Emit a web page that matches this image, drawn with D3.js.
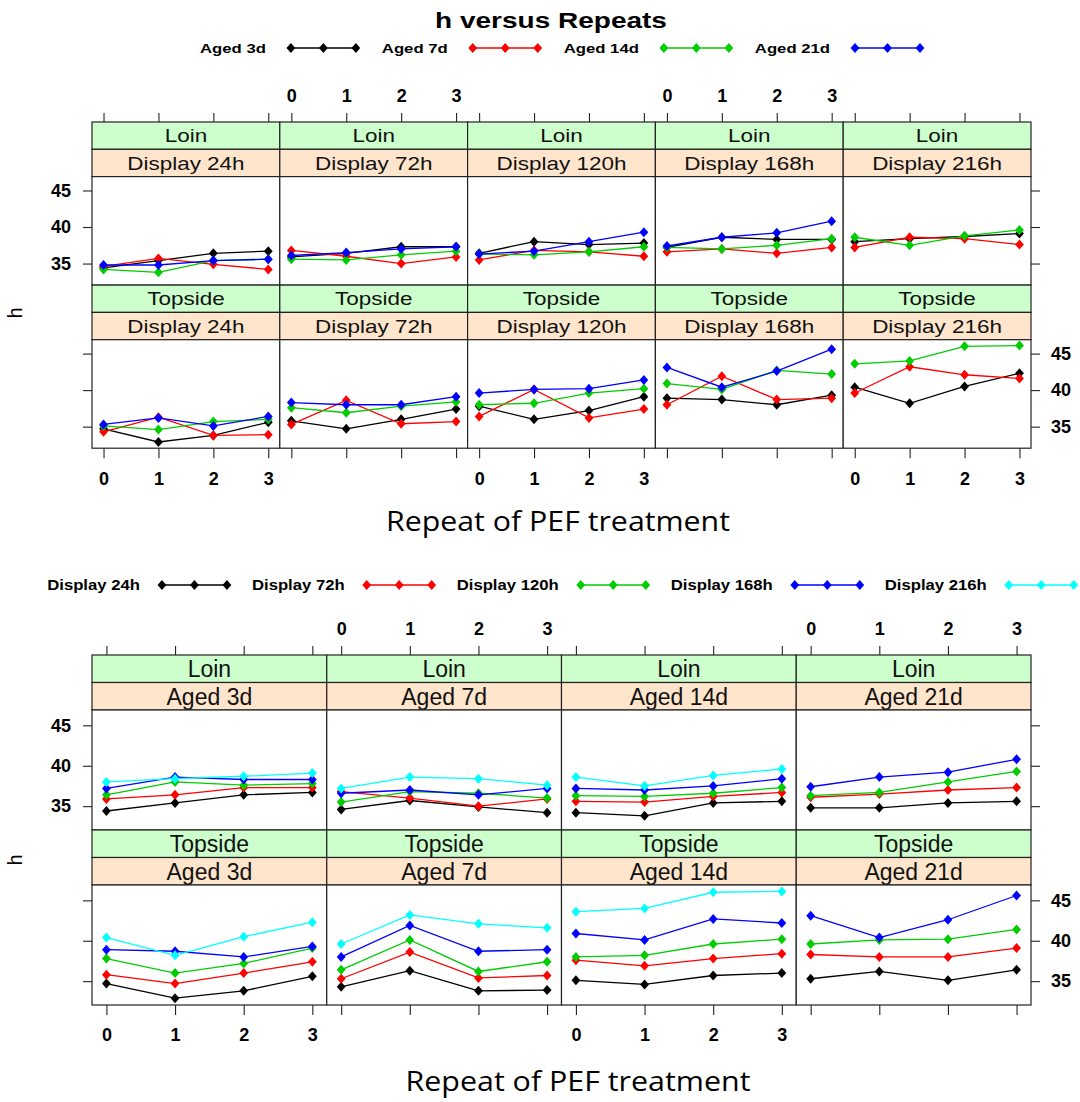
<!DOCTYPE html>
<html>
<head>
<meta charset="utf-8">
<script src="https://cdn.jsdelivr.net/npm/d3@7"></script>
<style>
  body { margin: 0; background: #fff; }
  svg { display: block; }
</style>
</head>
<body>
<svg id="chart" width="1080" height="1102"></svg>
<script>
// ---- data -------------------------------------------------------------
const repeats = [0, 1, 2, 3];
const muscles = ["Loin", "Topside"];
const agings = ["Aged 3d", "Aged 7d", "Aged 14d", "Aged 21d"];
const displays = ["Display 24h", "Display 72h", "Display 120h", "Display 168h", "Display 216h"];
const yTicks = [35, 40, 45];

// h per repeat; one row per display period (24h, 72h, 120h, 168h, 216h)
const loinAged3d = [
  [34.4, 35.4, 36.4, 36.7],
  [35.9, 36.4, 37.3, 37.3],
  [36.4, 38.0, 37.6, 37.8],
  [37.2, 38.6, 38.3, 38.3],
  [38.0, 38.4, 38.7, 39.1]
];
const loinAged7d = [
  [34.6, 35.7, 34.9, 34.2],
  [36.8, 36.0, 35.0, 35.9],
  [35.5, 36.8, 36.6, 36.0],
  [36.6, 37.0, 36.4, 37.2],
  [37.2, 38.6, 38.4, 37.6]
];
const loinAged14d = [
  [34.2, 33.8, 35.4, 35.6],
  [35.6, 35.5, 36.2, 36.7],
  [36.3, 36.2, 36.6, 37.3],
  [37.2, 37.0, 37.5, 38.4],
  [38.6, 37.5, 38.8, 39.6]
];
const loinAged21d = [
  [34.8, 34.8, 35.4, 35.6],
  [36.1, 36.5, 37.0, 37.3],
  [36.3, 36.7, 38.0, 39.3],
  [37.4, 38.6, 39.2, 40.8],
  null
];
const topsideAged3d = [
  [34.7, 32.9, 33.8, 35.6],
  [35.8, 34.7, 36.0, 37.4],
  [37.8, 36.0, 37.2, 39.1],
  [38.9, 38.7, 38.0, 39.3],
  [40.4, 38.2, 40.5, 42.3]
];
const topsideAged7d = [
  [34.3, 36.3, 33.8, 33.9],
  [35.3, 38.6, 35.4, 35.7],
  [36.4, 40.1, 36.2, 37.4],
  [38.0, 41.9, 38.7, 38.9],
  [39.6, 43.2, 42.1, 41.6]
];
const topsideAged14d = [
  [35.1, 34.6, 35.7, 36.0],
  [37.6, 36.9, 37.8, 38.4],
  [38.0, 38.2, 39.6, 40.2],
  [40.9, 40.1, 42.7, 42.2],
  [43.6, 44.0, 46.0, 46.1]
];
const topsideAged21d = [
  [35.3, 36.2, 35.1, 36.4],
  [38.3, 38.0, 38.0, 39.1],
  [39.6, 40.1, 40.2, 41.4],
  [43.1, 40.4, 42.6, 45.6],
  null
];

// series colours (R default palette)
const agingColors = ["#000000", "#ff0000", "#00cd00", "#0000ff"];
const displayColors = ["#000000", "#ff0000", "#00cd00", "#0000ff", "#00ffff"];

// ---- lookup -----------------------------------------------------------
const table = {
  "Loin": [loinAged3d, loinAged7d, loinAged14d, loinAged21d],
  "Topside": [topsideAged3d, topsideAged7d, topsideAged14d, topsideAged21d]
};
function valuesFor(muscle, aging, display) {
  return table[muscle][agings.indexOf(aging)][displays.indexOf(display)];
}

// ---- helpers ----------------------------------------------------------
const svg = d3.select("#chart");
const FONT = "'Liberation Sans', Arial, Helvetica, sans-serif";
const yDomain = [32.05, 46.9];

function label(parent, x, y, text, o = {}) {
  const t = parent.append("text")
    .attr("transform", `translate(${x},${y}) rotate(${o.rotate || 0}) scale(${o.sx || 1},${o.sy || 1})`)
    .attr("font-family", o.family || FONT)
    .attr("font-size", o.size || 16)
    .attr("font-weight", o.weight || "normal")
    .attr("text-anchor", o.anchor || "start")
    .attr("fill", o.fill || "#000")
    .text(text);
  if (o.length) t.attr("textLength", o.length).attr("lengthAdjust", "spacingAndGlyphs");
  return t;
}

function diamond(w, h) {
  return `M0,${-h}L${w},0L0,${h}L${-w},0Z`;
}
const MARK = diamond(4.4, 5);

function legend(o) {
  const g = svg.append("g");
  // measure the item texts first so the whole key can be centred
  const items = o.labels.map((lab, i) => {
    const t = label(g, 0, 0, lab, { size: o.size, weight: "bold", sy: o.sy });
    const w = t.node().getComputedTextLength();
    t.remove();
    return { lab, w, color: o.colors[i] };
  });
  const total = d3.sum(items, d => d.w + o.gapText + o.lineLen) + o.gapItem * (items.length - 1);
  let x = o.cx - total / 2;
  items.forEach(it => {
    label(g, x, o.y + 5, it.lab, { size: o.size, weight: "bold", sy: o.sy });
    x += it.w + o.gapText;
    const lx = d3.scaleLinear().domain([0, 2]).range([x + 3, x + o.lineLen - 3]);
    g.append("line")
      .attr("x1", x).attr("x2", x + o.lineLen)
      .attr("y1", o.y).attr("y2", o.y)
      .attr("stroke", it.color).attr("stroke-width", 1.3);
    [0, 1, 2].forEach(k => {
      g.append("path").attr("d", MARK)
        .attr("transform", `translate(${lx(k)},${o.y})`)
        .attr("fill", it.color);
    });
    x += o.lineLen + o.gapItem;
  });
}

function styleAxis(sel, o) {
  sel.select(".domain").remove();
  sel.selectAll(".tick line").attr("stroke", "#222").attr("stroke-width", 1.1);
  sel.selectAll(".tick text")
    .attr("font-family", FONT).attr("font-weight", "bold")
    .attr("font-size", o.tickSize).attr("fill", "#000");
}

function trellis(o) {
  const g = svg.append("g");
  const nCol = o.columns.length;
  const colW = (o.right - o.left) / nCol;
  const rowH = 2 * o.stripH + o.panelH;
  const noLabel = () => "";

  muscles.forEach((muscle, r) => {
    const rowTop = o.top + r * rowH;
    const py0 = rowTop + 2 * o.stripH;
    const py1 = py0 + o.panelH;
    const y = d3.scaleLinear().domain(yDomain).range([py1, py0]);

    o.columns.forEach((col, ci) => {
      const x0 = o.left + ci * colW;
      const x = d3.scaleLinear().domain([-o.pad, 3 + o.pad]).range([x0, x0 + colW]);

      // strips: muscle on top, column variable beneath
      [[muscle, "#ccffcc"], [col, "#ffe5cc"]].forEach(([txt, fill], k) => {
        const sy0 = rowTop + k * o.stripH;
        g.append("rect")
          .attr("x", x0).attr("y", sy0)
          .attr("width", colW).attr("height", o.stripH)
          .attr("fill", fill).attr("stroke", "#222").attr("stroke-width", 1.2);
        label(g, x0 + colW / 2, sy0 + o.stripH / 2 + o.stripFont * 0.36 * o.stripSy, txt,
          { size: o.stripFont, anchor: "middle", sy: o.stripSy, fill: "#111" });
      });

      // panel frame
      g.append("rect")
        .attr("x", x0).attr("y", py0)
        .attr("width", colW).attr("height", o.panelH)
        .attr("fill", "#fff").attr("stroke", "#222").attr("stroke-width", 1.2);

      // series
      const lineGen = d3.line().x((d, i) => x(repeats[i])).y(d => y(d));
      o.series.forEach((s, si) => {
        const vals = o.value(muscle, col, s);
        if (!vals) return;
        g.append("path")
          .attr("d", lineGen(vals))
          .attr("fill", "none")
          .attr("stroke", o.colors[si]).attr("stroke-width", 1.3);
        vals.forEach((v, i) => {
          g.append("path").attr("d", MARK)
            .attr("transform", `translate(${x(repeats[i])},${y(v)})`)
            .attr("fill", o.colors[si]);
        });
      });

      // x axes: top on the first row, bottom on the last
      if (r === 0) {
        const ax = g.append("g").attr("transform", `translate(0,${rowTop})`)
          .call(d3.axisTop(x).tickValues(repeats).tickSize(9).tickPadding(o.topPad)
            .tickFormat(o.topLabelCols.includes(ci) ? d3.format("d") : noLabel));
        styleAxis(ax, o);
      }
      if (r === muscles.length - 1) {
        const ax = g.append("g").attr("transform", `translate(0,${py1})`)
          .call(d3.axisBottom(x).tickValues(repeats).tickSize(10).tickPadding(o.bottomPad)
            .tickFormat(o.bottomLabelCols.includes(ci) ? d3.format("d") : noLabel));
        styleAxis(ax, o);
      }
    });

    // y axes: labels alternate left (first row) and right (second row)
    const axL = g.append("g").attr("transform", `translate(${o.left},0)`)
      .call(d3.axisLeft(y).tickValues(yTicks).tickSize(9).tickPadding(12)
        .tickFormat(r === 0 ? d3.format("d") : noLabel));
    styleAxis(axL, o);
    const axR = g.append("g").attr("transform", `translate(${o.right},0)`)
      .call(d3.axisRight(y).tickValues(yTicks).tickSize(9).tickPadding(11)
        .tickFormat(r === 1 ? d3.format("d") : noLabel));
    styleAxis(axR, o);
  });

  // axis titles
  label(g, o.yLabel[0], o.yLabel[1], "h", { size: 20, anchor: "middle", rotate: -90 });
  label(g, o.xLabel[0], o.xLabel[1], "Repeat of PEF treatment",
    { size: 27, anchor: "middle", family: "'Open Sans', 'Noto Sans', sans-serif", length: o.xLabelLen });
}

// ---- top figure: panels by display period, lines by ageing -------------
label(svg, 551, 28, "h versus Repeats", { size: 28, weight: "bold", anchor: "middle", sy: 0.8 });

legend({
  labels: agings, colors: agingColors, cx: 561.5, y: 48,
  size: 16.7, sy: 0.78, gapText: 22, lineLen: 71, gapItem: 23
});

trellis({
  columns: displays, series: agings, colors: agingColors,
  value: (m, col, s) => valuesFor(m, s, col),
  left: 92, right: 1031, top: 122, stripH: 27.3, panelH: 108.5, pad: 0.21,
  stripFont: 22.5, stripSy: 0.83, tickSize: 18,
  topPad: 11, bottomPad: 14,
  topLabelCols: [1, 3], bottomLabelCols: [0, 2, 4],
  yLabel: [22, 313], xLabel: [558, 531], xLabelLen: 344
});

// ---- bottom figure: panels by ageing, lines by display period ----------
legend({
  labels: displays, colors: displayColors, cx: 562, y: 585,
  size: 16.7, sy: 0.85, gapText: 19, lineLen: 71, gapItem: 22
});

trellis({
  columns: agings, series: displays, colors: displayColors,
  value: (m, col, s) => valuesFor(m, col, s),
  left: 92, right: 1031, top: 655, stripH: 27.5, panelH: 120, pad: 0.21,
  stripFont: 23, stripSy: 1, tickSize: 18,
  topPad: 11, bottomPad: 13,
  topLabelCols: [1, 3], bottomLabelCols: [0, 2],
  yLabel: [22, 860], xLabel: [578, 1091], xLabelLen: 345
});
</script>
</body>
</html>
